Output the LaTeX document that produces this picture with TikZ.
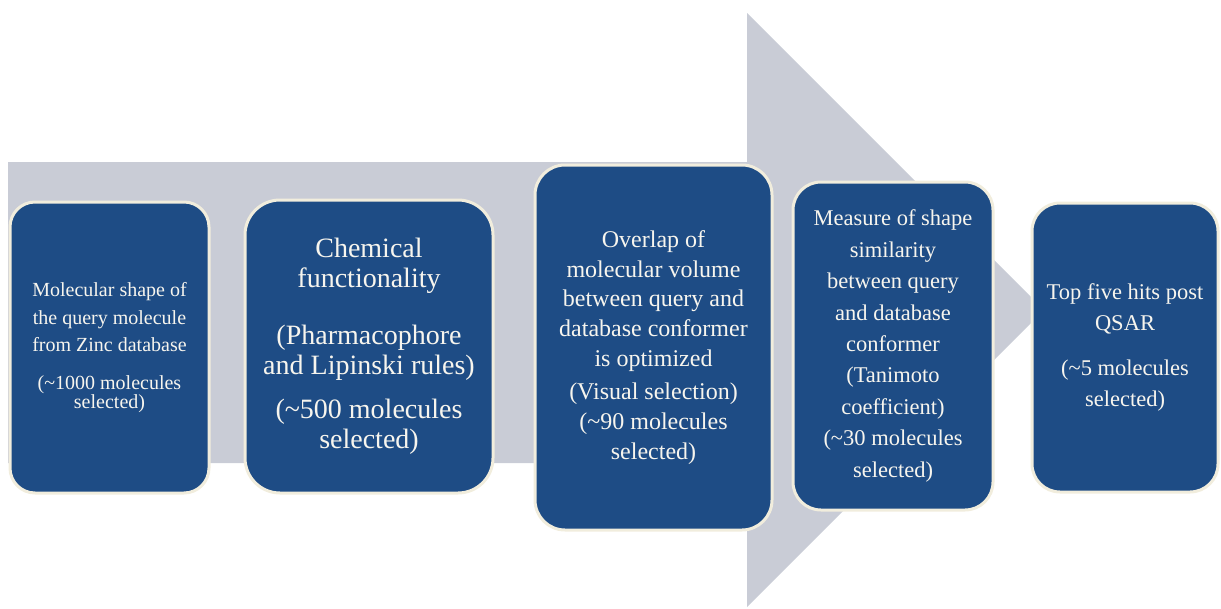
\documentclass[tikz,border=0pt]{standalone}
\usepackage{fontspec}
\setmainfont{Liberation Serif}
\definecolor{arrowgray}{HTML}{C9CCD6}
\definecolor{boxblue}{HTML}{1E4C85}
\definecolor{boxedge}{HTML}{F1EDDD}
\definecolor{boxtext}{HTML}{F7F5EE}
\tikzset{
  stage/.style={draw=boxedge, line width=3pt, fill=boxblue, text=boxtext,
    rounded corners=28pt, align=center, inner sep=0pt},
  bigarrow/.style={fill=arrowgray}
}
\begin{document}
\begin{tikzpicture}[x=1pt,y=-1pt]
\useasboundingbox (0,0) rectangle (1221,608);
\fill[bigarrow] (8,162) -- (747,162) -- (747,13) -- (1044,310) -- (747,607) -- (747,463) -- (8,463) -- cycle;

\node[stage, rounded corners=25pt, minimum width=199pt, minimum height=291pt,
  font=\fontsize{20}{27.5}\selectfont] (s1) at (109.5,347.5)
  {Molecular shape of\\ the query molecule\\ from Zinc database\\[10pt]
   (\textasciitilde1000 molecules\\[-8.5pt] selected)};

\node[stage, rounded corners=35pt, minimum width=248pt, minimum height=293pt,
  font=\fontsize{28}{29.5}\selectfont] (s2) at (369,346.5)
  {Chemical\\ functionality\\[28pt] (Pharmacophore\\ and Lipinski rules)\\[15pt]
   (\textasciitilde500 molecules\\ selected)};

\node[stage, rounded corners=30pt, minimum width=237pt, minimum height=365pt,
  font=\fontsize{24}{29.7}\selectfont] (s3) at (653.5,347.5)
  {Overlap of\\ molecular volume\\ between query and\\ database conformer\\ is optimized\\[4pt]
   (Visual selection)\\ (\textasciitilde90 molecules\\ selected)};

\node[stage, minimum width=200pt, minimum height=328pt,
  font=\fontsize{22.5}{31.4}\selectfont] (s4) at (893,346)
  {Measure of shape\\ similarity\\ between query\\ and database\\ conformer\\ (Tanimoto\\
   coefficient)\\ (\textasciitilde30 molecules\\ selected)};

\node[stage, minimum width=186pt, minimum height=289pt,
  font=\fontsize{22.5}{31}\selectfont] (s5) at (1125,347.5)
  {Top five hits post\\ QSAR\\[14pt] (\textasciitilde5 molecules\\ selected)};
\end{tikzpicture}
\end{document}
